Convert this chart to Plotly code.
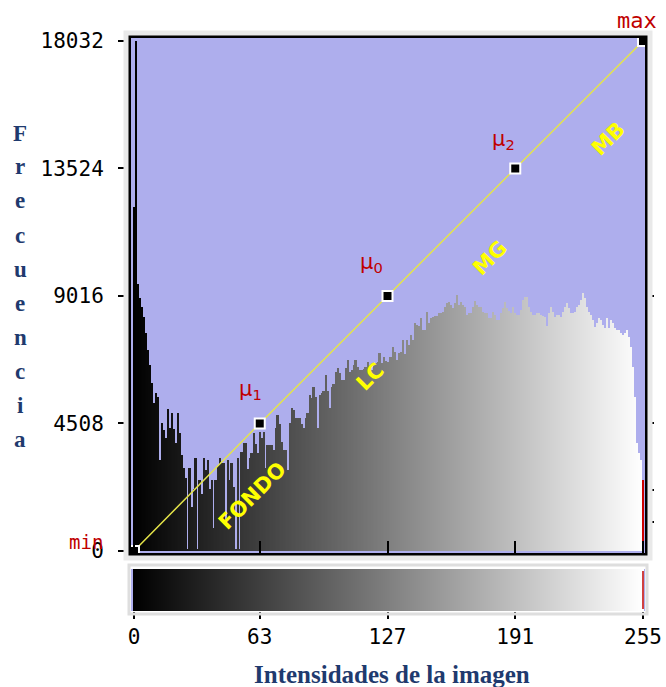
import plotly.graph_objects as go

# ---------------- data ----------------
bins = list(range(256))
counts = [
    12175, 18032, 9450, 8950, 8640, 8285, 7708, 7107, 6577, 5940,
    5233, 5587, 5450, 3218, 4526, 4279, 3996, 5021, 4338, 4892,
    4326, 3832, 4892, 4161, 3400, 2925, 2572, 80, 2925, 1567,
    2200, 3288, 80, 2500, 2000, 3288, 2864, 3200, 2200, 2500,
    800, 2511, 3000, 3277, 3100, 3100, 900, 3200, 2511, 3100,
    2275, 80, 3277, 80, 3512, 3807, 3807, 2900, 3300, 3453,
    4161, 3800, 3453, 4220, 4000, 4220, 2923, 3748, 3748, 3748,
    3571, 4338, 4809, 4500, 3850, 3571, 3571, 2864, 4514, 5045,
    4986, 4700, 4691, 4691, 4500, 4337, 4700, 4890, 5516, 5400,
    5811, 5457, 4337, 5516, 5600, 5658, 6223, 5658, 5045, 5811,
    5900, 6341, 6459, 6282, 6047, 6047, 6459, 6754, 6341, 6400,
    6577, 6754, 6500, 6400, 6400, 6450, 6518, 6695, 6500, 6400,
    6577, 6650, 6695, 6990, 6650, 6872, 6700, 6695, 6850, 6850,
    7225, 7050, 6754, 7000, 7050, 7461, 6950, 7461, 7300, 7638,
    7461, 8050, 8000, 7956, 8227, 7815, 7815, 8463, 8050, 8227,
    8286, 8300, 8310, 8404, 8404, 8463, 8640, 8758, 8800, 8700,
    8600, 8758, 9052, 8700, 8817, 8700, 8640, 8345, 8404, 8404,
    8640, 8852, 8700, 8640, 8640, 8463, 8400, 8404, 8227, 8227,
    8463, 8345, 8168, 8168, 8404, 8580, 8817, 8580, 8500, 8404,
    8640, 8404, 8345, 8345, 8522, 8875, 8993, 8993, 8640, 8463,
    8345, 8345, 8404, 8404, 8345, 8300, 8286, 7956, 8400, 8640,
    8463, 8286, 8345, 8345, 8286, 8463, 8640, 8758, 8580, 8404,
    8404, 8463, 8640, 8700, 8870, 9111, 8930, 8640, 8463, 8345,
    8168, 7932, 8050, 8227, 8168, 8000, 7900, 8227, 7900, 8168,
    8050, 7874, 7815, 7815, 7697, 7638, 7700, 7815, 7579, 7225,
    6518, 5457, 3807, 3453, 3218, 2500,
]
marker_bins = [0, 63, 127, 191, 255]
marker_vals = [0, 4508, 9016, 13524, 18032]
marker_names = ["min", "μ<sub>1</sub>", "μ<sub>0</sub>", "μ<sub>2</sub>", "max"]
y_ticks = [0, 4508, 9016, 13524, 18032]
y_ticktext = ["0", "4508", "9016", "13524", "18032"]
x_ticks = [0, 63, 127, 191, 255]
x_ticktext = ["0", "63", "127", "191", "255"]
right_ticks = [1025, 2157, 4508, 9016]
region_labels = ["FONDO", "LC", "MG", "MB"]
y_title = "Frecuencia"
x_title = "Intensidades de la imagen"

# ---------------- layout helpers ----------------
W, H = 666, 687
ML, MR, MT, MB_ = 131, 21, 38, 76
PW, PH = W - ML - MR, H - MT - MB_


def px_x(px):
    return (px - ML) / PW


def px_y(py):
    return (H - MB_ - py) / PH


RED = "#c00000"
NAVY = "#1f3a6e"
bar_colors = [f"rgb({i},{i},{i})" for i in bins]
bar_colors[-1] = "#cc0000"

fig = go.Figure()

fig.add_trace(go.Bar(
    x=bins, y=counts, width=1.0,
    marker=dict(color=bar_colors, line=dict(width=0)),
    xaxis="x", yaxis="y", showlegend=False, hoverinfo="x+y",
))

fig.add_trace(go.Scatter(
    x=marker_bins, y=marker_vals, mode="lines+markers",
    line=dict(color="#e4e44a", width=1.5),
    marker=dict(symbol="square", size=10, color="black",
                line=dict(color="white", width=2)),
    xaxis="x", yaxis="y", showlegend=False, cliponaxis=False,
))

# grayscale strip below
fig.add_trace(go.Heatmap(
    x=bins, y=[0], z=[bins], zmin=0, zmax=255,
    colorscale=[[0, "black"], [1, "white"]], showscale=False,
    xaxis="x2", yaxis="y2", hoverinfo="skip",
))

# invisible trace for right-hand ticks
fig.add_trace(go.Scatter(x=[0], y=[0], mode="markers", marker=dict(opacity=0),
                         xaxis="x", yaxis="y3", showlegend=False, hoverinfo="skip"))

xr = [-1.5, 256]
yr = [-72, 18138]

fig.update_layout(
    width=W, height=H,
    margin=dict(l=ML, r=MR, t=MT, b=MB_, autoexpand=False),
    paper_bgcolor="white",
    plot_bgcolor="#aeaeed",
    bargap=0,
    xaxis=dict(domain=[0, 1], range=xr, anchor="y", automargin=False,
               showline=True, mirror=True, linewidth=3, linecolor="black",
               ticks="inside", tickvals=x_ticks, ticklen=12, tickwidth=2,
               tickcolor="black", showticklabels=False, showgrid=False,
               zeroline=False),
    yaxis=dict(domain=[px_y(553), 1], range=yr, anchor="x", automargin=False,
               showline=True, mirror=True, linewidth=3, linecolor="black",
               ticks="outside", tickvals=y_ticks, ticktext=y_ticktext,
               ticklen=10, tickwidth=2,
               tickcolor="black", showgrid=False, zeroline=False,
               tickfont=dict(family="DejaVu Sans Mono", size=21, color="black"),
               ticklabelstandoff=10),
    yaxis3=dict(overlaying="y", side="right", range=yr, anchor="x",
                automargin=False,
                ticks="outside", tickvals=right_ticks, ticklen=8, tickwidth=2,
                tickcolor="black", showticklabels=False, showgrid=False,
                zeroline=False, showline=False),
    xaxis2=dict(domain=[0, 1], range=xr, anchor="y2", automargin=False,
                ticks="outside", tickvals=x_ticks, ticktext=x_ticktext,
                ticklen=7, tickwidth=1.5,
                tickcolor="black", showgrid=False, zeroline=False,
                tickfont=dict(family="DejaVu Sans Mono", size=21, color="black")),
    yaxis2=dict(domain=[0, px_y(569)], range=[-0.5, 0.5], anchor="x2",
                automargin=False,
                showticklabels=False, showgrid=False, zeroline=False,
                ticks=""),
)

shapes = []
# light grey frame around the histogram
shapes.append(dict(type="rect", xref="paper", yref="paper",
                   x0=px_x(126), x1=px_x(650), y0=px_y(558), y1=px_y(33),
                   line=dict(color="#e9e9e9", width=5), fillcolor="rgba(0,0,0,0)"))
# light grey frame around the strip
shapes.append(dict(type="rect", xref="paper", yref="paper",
                   x0=px_x(129), x1=px_x(647), y0=px_y(614), y1=px_y(565),
                   line=dict(color="#dedede", width=3), fillcolor="rgba(0,0,0,0)"))
# red marker in strip
shapes.append(dict(type="line", xref="x2", yref="paper",
                   x0=bins[-1], x1=bins[-1], y0=px_y(609), y1=px_y(571),
                   line=dict(color=RED, width=1.5)))
fig.update_layout(shapes=shapes)

ann = []
C = dict(xanchor="center", yanchor="middle", showarrow=False)
# mu labels next to markers
offsets = {1: (-9, 33), 2: (-16, 33), 3: (-12, 28)}
for i, (xs, ys) in offsets.items():
    ann.append(dict(x=marker_bins[i], y=marker_vals[i], xref="x", yref="y",
                    text=marker_names[i], xshift=xs, yshift=ys,
                    font=dict(family="DejaVu Sans", size=21, color=RED), **C))
ann.append(dict(x=px_x(86), y=px_y(542), xref="paper", yref="paper",
                text=marker_names[0],
                font=dict(family="DejaVu Sans Mono", size=19, color=RED), **C))
ann.append(dict(x=px_x(637), y=px_y(20), xref="paper", yref="paper",
                text=marker_names[-1],
                font=dict(family="DejaVu Sans Mono", size=22, color=RED), **C))

# region labels along the line
region_px = [(252, 496), (370, 377), (490, 258), (608, 139)]
for lab, (px, py) in zip(region_labels, region_px):
    ann.append(dict(x=px_x(px), y=px_y(py), xref="paper", yref="paper",
                    text=f"<b>{lab}</b>", textangle=-45,
                    font=dict(family="DejaVu Sans", size=21, color="#ffff00"), **C))

# vertical stacked y title
for k, ch in enumerate(y_title):
    ann.append(dict(x=px_x(20), y=px_y(133 + k * 34), xref="paper", yref="paper",
                    text=f"<b>{ch}</b>",
                    font=dict(family="Liberation Serif", size=23, color=NAVY), **C))

ann.append(dict(x=px_x(392), y=px_y(674), xref="paper", yref="paper",
                text=f"<b>{x_title}</b>",
                font=dict(family="Liberation Serif", size=25, color=NAVY), **C))

fig.update_layout(annotations=ann)

fig.write_html("out.html",
               config={"displayModeBar": False},
               post_script="document.body.style.margin='0px';"
                           "document.body.style.padding='0px';")
